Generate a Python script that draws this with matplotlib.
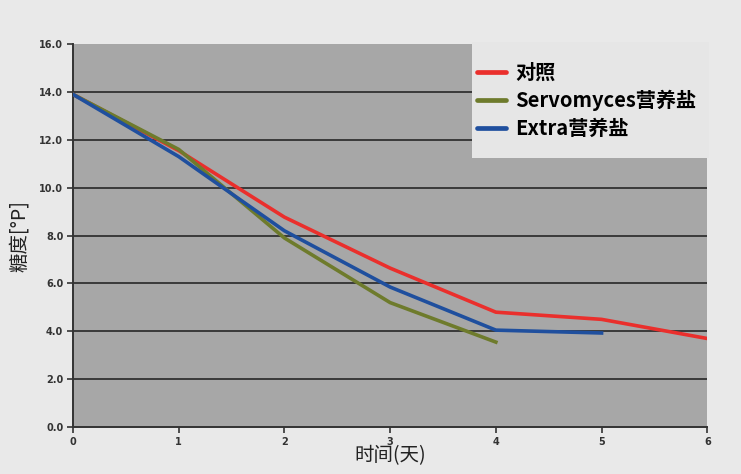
import matplotlib.pyplot as plt
import matplotlib.patches as mpatches
import numpy as np

plt.rcParams["font.family"] = ["Noto Sans CJK SC", "DejaVu Sans"]

days_ctrl = [0, 1, 2, 3, 4, 5, 6]
sugar_ctrl = [13.9, 11.55, 8.77, 6.64, 4.8, 4.5, 3.7]
days_servo = [0, 1, 2, 3, 4]
sugar_servo = [13.9, 11.6, 7.9, 5.2, 3.55]
days_extra = [0, 1, 2, 3, 4, 5]
sugar_extra = [13.9, 11.3, 8.2, 5.85, 4.05, 3.93]

labels = ["对照", "Servomyces营养盐", "Extra营养盐"]
colors = ["#ea2f2c", "#6e7b2c", "#1f4f9e"]
yticks = np.arange(0, 16.1, 2)
xticks = np.arange(0, 7)

fig = plt.figure(figsize=(7.41, 4.74), dpi=100, facecolor="#e9e9e9")
ax = fig.add_axes([0.0985, 0.099, 0.856, 0.808])
ax.set_facecolor("#a7a7a7")

for v in yticks[1:-1]:
    ax.axhline(v, color="#3a3a3a", lw=1.4, zorder=1)

ax.plot(days_ctrl, sugar_ctrl, color=colors[0], lw=2.6, label=labels[0], zorder=3)
ax.plot(days_servo, sugar_servo, color=colors[1], lw=2.6, label=labels[1], zorder=3)
ax.plot(days_extra, sugar_extra, color=colors[2], lw=2.6, label=labels[2], zorder=4)

ax.set_xlim(0, 6)
ax.set_ylim(0, 16)
ax.set_xticks(xticks)
ax.set_yticks(yticks)
ax.set_xticklabels([str(x) for x in xticks], fontsize=7, fontweight="bold", color="#333333",
                   family="DejaVu Sans")
ax.set_yticklabels([f"{y:.1f}" for y in yticks], fontsize=7, fontweight="bold", color="#333333",
                   family="DejaVu Sans")
ax.tick_params(axis="both", direction="out", length=4, width=1.2, color="#333333", pad=3)
for s in ["top", "right"]:
    ax.spines[s].set_visible(False)
for s in ["left", "bottom"]:
    ax.spines[s].set_color("#333333")
    ax.spines[s].set_linewidth(1.4)

ax.set_xlabel("时间(天)", fontsize=14, labelpad=-1, color="#222222")
ax.set_ylabel("糖度[°P]", fontsize=14, labelpad=7, color="#222222")

# legend box
fig.patches.append(mpatches.Rectangle((472 / 741, (474 - 158) / 474), 237 / 741, 116 / 474,
                                      transform=fig.transFigure, facecolor="#e6e6e6",
                                      edgecolor="none", zorder=5))
leg = fig.legend(loc="upper left", bbox_to_anchor=(477 / 741, (474 - 62) / 474), frameon=False,
                 prop={"family": ["Noto Sans CJK SC"], "weight": "bold", "size": 14.5},
                 handlelength=1.45, handletextpad=0.45, labelspacing=0.35, borderpad=0,
                 borderaxespad=0)
leg.set_zorder(6)
for line in leg.get_lines():
    line.set_linewidth(3.4)
    line.set_solid_capstyle("round")

fig.savefig("out.png", dpi=100, facecolor=fig.get_facecolor())
